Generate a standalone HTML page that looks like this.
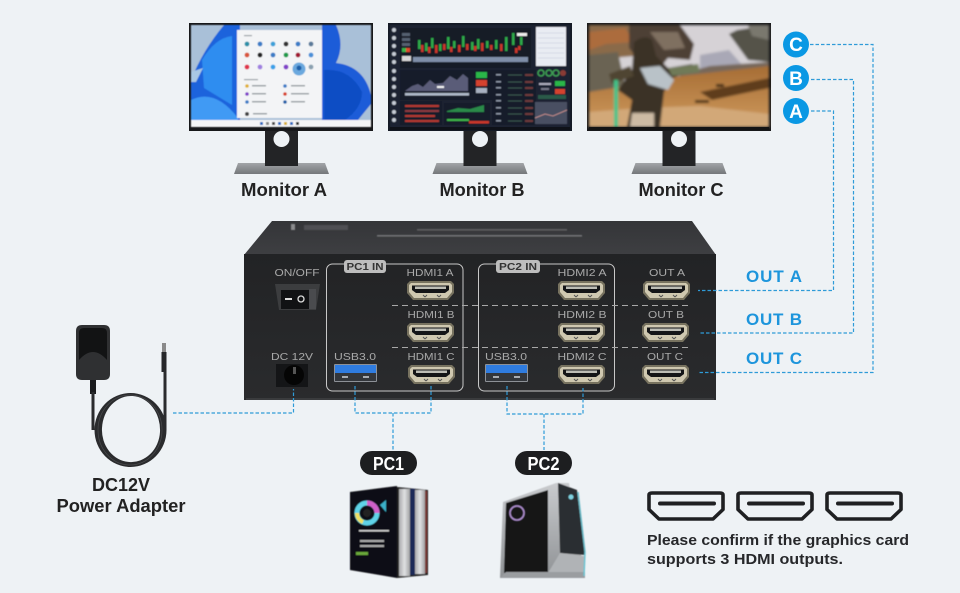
<!DOCTYPE html>
<html><head><meta charset="utf-8"><style>
html,body{margin:0;padding:0;background:#eef2f5;width:960px;height:593px;overflow:hidden}
svg{display:block}
text{font-family:"Liberation Sans",sans-serif}
.lbl{font-weight:700;fill:#222;font-size:18px;text-anchor:middle}
.out{font-weight:700;fill:#1d95dc;font-size:17px;text-anchor:middle}
.pl{fill:#a9a9a9;font-size:10px;text-anchor:middle}
.dash{fill:none;stroke:#2e9bd8;stroke-width:1.2;stroke-dasharray:3.5 2}
</style></head><body>
<svg width="960" height="593" viewBox="0 0 960 593" xmlns="http://www.w3.org/2000/svg">
<defs>
<filter id="b" x="-5%" y="-5%" width="110%" height="110%"><feGaussianBlur stdDeviation="0.6"/></filter>
<filter id="b2" x="-5%" y="-5%" width="110%" height="110%"><feGaussianBlur stdDeviation="1.3"/></filter>
<linearGradient id="base" x1="0" y1="0" x2="0" y2="1"><stop offset="0" stop-color="#a2a5a8"/><stop offset="1" stop-color="#74777a"/></linearGradient>
<linearGradient id="top" x1="0" y1="0" x2="0" y2="1"><stop offset="0" stop-color="#343538"/><stop offset="1" stop-color="#3e3f42"/></linearGradient>
<linearGradient id="front" x1="0" y1="0" x2="0" y2="1"><stop offset="0" stop-color="#222325"/><stop offset="1" stop-color="#2a2b2d"/></linearGradient>
<linearGradient id="sand" x1="0" y1="0" x2="0" y2="1"><stop offset="0" stop-color="#a66d34"/><stop offset="1" stop-color="#cf9a5e"/></linearGradient>
<linearGradient id="silver" x1="0" y1="0" x2="1" y2="0"><stop offset="0" stop-color="#a9aaac"/><stop offset=".5" stop-color="#e0e1e3"/><stop offset="1" stop-color="#a0a1a3"/></linearGradient>
<linearGradient id="pc2s" x1="0" y1="0" x2="0" y2="1"><stop offset="0" stop-color="#c9cbce"/><stop offset="1" stop-color="#8f9295"/></linearGradient>

<g id="stand">
<path d="M4 163H91L95 174H0Z" fill="url(#base)"/>
<rect x="31" y="130" width="33" height="36" fill="#232426"/>
<circle cx="47.500" cy="139" r="8" fill="#eef2f5"/>
</g>

<g id="hdmi">
<path d="M1 3L4 0H45L48 3V12L42 19H7L1 12Z" fill="#77725f"/>
<path d="M3 4L5 2H44L46 4V11L41 17H8L3 11Z" fill="#cfc8b0"/>
<path d="M6 4.500H43V9L39 12H10L6 9Z" fill="#141517"/>
<rect x="9" y="5.500" width="31" height="2.500" fill="#bdbdb5"/>
<path d="M17 14l2 2M21 14l-2 2M31 14l2 2M35 14l-2 2" stroke="#555" stroke-width="1"/>
</g>

<g id="usb">
<rect x="0" y="0" width="43" height="18" rx="1" fill="#8d9197"/>
<rect x="1" y="1" width="41" height="8" fill="#2f7ce0"/>
<rect x="1" y="9" width="41" height="8" fill="#33363b"/>
<rect x="8" y="12" width="6" height="2" fill="#a8acb2"/><rect x="29" y="12" width="6" height="2" fill="#a8acb2"/>
</g>

<g id="hd">
<path d="M2 4Q2 2 5 2H73Q76 2 76 4V18.500L66 28H12L2 18.500Z" fill="none" stroke="#1f2022" stroke-width="3.600" stroke-linejoin="round"/>
<rect x="11" y="10.500" width="58" height="4" rx="2" fill="#1f2022"/>
</g>
</defs>

<rect width="960" height="593" fill="#eef2f5"/>

<!-- Monitor A -->
<use href="#stand" x="234"/>
<rect x="189" y="23" width="184" height="108" fill="#17181a"/>
<g filter="url(#b)">
<rect x="191" y="25" width="180" height="97" fill="#a9c0d8"/>
<path d="M191 80Q203 50 224 25H240V120H191Z" fill="#1c63dc"/>
<path d="M202 60Q215 38 232 36V105L204 88Z" fill="#2f8df0"/>
<path d="M191 72L203 68L196 82H191Z" fill="#a9c8e4"/>
<path d="M191 100Q215 88 238 118V120H191Z" fill="#3f9af4"/>
<path d="M322 25H336Q345 45 336 63Q364 66 371 95V104L358 120H322Z" fill="#1a5cd8"/>
<path d="M324 70Q350 68 362 92Q362 108 345 120H324Z" fill="#0f4ec4"/>
<rect x="191" y="120" width="180" height="7" fill="#f4f5f6"/>
<rect x="237" y="30" width="85" height="88" fill="#f3f4f6"/>
<g fill="#3a7cc6">
<circle cx="247" cy="44" r="2.400" fill="#2a8fa8"/><circle cx="260" cy="44" r="2.400"/><circle cx="273" cy="44" r="2.400" fill="#3aa0d8"/><circle cx="286" cy="44" r="2.400" fill="#333"/><circle cx="298" cy="44" r="2.400"/><circle cx="311" cy="44" r="2.400" fill="#5a7a9a"/>
<circle cx="247" cy="55" r="2.400" fill="#d8543a"/><circle cx="260" cy="55" r="2.400" fill="#222"/><circle cx="273" cy="55" r="2.400"/><circle cx="286" cy="55" r="2.400" fill="#1a9a4a"/><circle cx="298" cy="55" r="2.400" fill="#a01830"/><circle cx="311" cy="55" r="2.400" fill="#4a90d8"/>
<circle cx="247" cy="67" r="2.400" fill="#e0304a"/><circle cx="260" cy="67" r="2.400" fill="#a080e0"/><circle cx="273" cy="67" r="2.400" fill="#38a0e8"/><circle cx="286" cy="67" r="2.400" fill="#8040c8"/><circle cx="299" cy="69" r="6.500" fill="#6aa8de"/><circle cx="299" cy="68" r="2.500" fill="#1f5ea8"/><circle cx="311" cy="67" r="2.400" fill="#8aa0b0"/>
<circle cx="247" cy="86" r="1.800" fill="#e0b030"/><circle cx="285" cy="86" r="1.800"/><circle cx="247" cy="94" r="1.800" fill="#8040c8"/><circle cx="285" cy="94" r="1.800" fill="#d8402a"/><circle cx="247" cy="102" r="1.800"/><circle cx="285" cy="102" r="1.800" fill="#1f5ea8"/><circle cx="247" cy="114" r="2" fill="#444"/>
</g>
<g fill="#9aa0a6"><rect x="244" y="35" width="8" height="1.200"/><rect x="244" y="79" width="14" height="1.200"/><rect x="252" y="85" width="14" height="1.500"/><rect x="291" y="85" width="14" height="1.500"/><rect x="252" y="93" width="14" height="1.500"/><rect x="291" y="93" width="18" height="1.500"/><rect x="252" y="101" width="14" height="1.500"/><rect x="291" y="101" width="14" height="1.500"/><rect x="253" y="113" width="14" height="1.500"/></g>
<g fill="#2a6cc0"><rect x="260" y="122" width="3" height="3"/><rect x="266" y="122" width="3" height="3" fill="#888"/><rect x="272" y="122" width="3" height="3" fill="#444"/><rect x="278" y="122" width="3" height="3"/><rect x="284" y="122" width="3" height="3" fill="#d8b030"/><rect x="290" y="122" width="3" height="3"/><rect x="296" y="122" width="3" height="3" fill="#333"/></g>
</g>
<text class="lbl" x="284" y="196" textLength="86" lengthAdjust="spacingAndGlyphs">Monitor A</text>

<!-- Monitor B -->
<use href="#stand" x="432.500"/>
<rect x="388" y="23" width="184" height="108" fill="#141a24"/>
<g filter="url(#b)">
<rect x="390" y="25" width="180" height="103" fill="#1c2433"/>
<rect x="400" y="28" width="131" height="40" fill="#141b28"/>
<rect x="400" y="70" width="102" height="30" fill="#151c29"/><rect x="400" y="101" width="42" height="24" fill="#151c29"/><rect x="444" y="103" width="46" height="22" fill="#151c29"/>
<rect x="492" y="70" width="44" height="55" fill="#151c29"/>
<g fill="#c6ccd5"><circle cx="394" cy="30" r="2"/><circle cx="394" cy="38" r="2"/><circle cx="394" cy="46" r="2"/><circle cx="394" cy="54" r="2"/><circle cx="394" cy="62" r="2"/><circle cx="394" cy="71" r="2"/><circle cx="394" cy="79" r="2"/><circle cx="394" cy="87" r="2"/><circle cx="394" cy="95" r="2"/><circle cx="394" cy="103" r="2"/><circle cx="394" cy="112" r="2"/><circle cx="394" cy="120" r="2"/></g>
<rect x="402" y="33" width="8" height="3" fill="#55606f"/><rect x="402" y="38" width="8" height="3" fill="#55606f"/><rect x="402" y="43" width="8" height="3" fill="#55606f"/>
<rect x="402" y="48" width="4" height="4" fill="#38b24a"/><rect x="406" y="48" width="4" height="4" fill="#e04a2a"/>
<rect x="402" y="56" width="9" height="5" fill="#d8d8d8"/>
<rect x="413" y="57" width="115" height="5" fill="#7f8fa8"/>
<g fill="#2ea84a"><rect x="418" y="40" width="2.500" height="9"/><rect x="425" y="43" width="2.500" height="8"/><rect x="431" y="38" width="2.500" height="10"/><rect x="439" y="44" width="2.500" height="7"/><rect x="447" y="37" width="2.500" height="12"/><rect x="453" y="41" width="2.500" height="7"/><rect x="462" y="36" width="2.500" height="11"/><rect x="471" y="42" width="2.500" height="8"/><rect x="477" y="39" width="2.500" height="10"/><rect x="486" y="41" width="2.500" height="7"/><rect x="495" y="40" width="2.500" height="9"/><rect x="505" y="37" width="2.500" height="14"/><rect x="512" y="33" width="2.500" height="12"/><rect x="520" y="37" width="2.500" height="8"/></g>
<g fill="#c9382c"><rect x="421" y="45" width="2.500" height="7"/><rect x="428" y="47" width="2.500" height="6"/><rect x="435" y="45" width="2.500" height="8"/><rect x="443" y="44" width="2.500" height="6"/><rect x="450" y="47" width="2.500" height="5"/><rect x="458" y="45" width="2.500" height="7"/><rect x="466" y="44" width="2.500" height="6"/><rect x="474" y="46" width="2.500" height="5"/><rect x="481" y="43" width="2.500" height="8"/><rect x="490" y="45" width="2.500" height="5"/><rect x="500" y="44" width="2.500" height="7"/><rect x="515" y="48" width="2.500" height="5"/><rect x="518" y="46" width="2.500" height="4"/></g>
<rect x="517" y="33" width="10" height="3" fill="#eee"/>
<rect x="536" y="27" width="30" height="39" fill="#e9ecf3"/>
<g stroke="#c0c8da" stroke-width=".6"><path d="M538 33H564M538 38H564M538 43H564M538 48H564M538 53H564M538 58H564"/></g>
<path d="M405 91L412 86L418 84L423 87L430 80L435 84L443 83L450 76L457 80L463 74L468 78V91Z" fill="#5a5c78"/>
<rect x="405" y="93" width="64" height="2.500" fill="#aeb8c8"/><rect x="437" y="86" width="7" height="2" fill="#f4f4f4"/>
<rect x="476" y="72" width="11" height="6" fill="#29b64a"/><rect x="476" y="80" width="11" height="6" fill="#d5432d"/><rect x="476" y="88" width="11" height="5" fill="#a7b0c0"/>
<rect x="405" y="105" width="34" height="2" fill="#b53a30"/><rect x="405" y="110" width="34" height="2" fill="#8d3a40"/><rect x="405" y="115" width="30" height="2" fill="#b53a30"/><rect x="405" y="120" width="34" height="2" fill="#b53a30"/>
<path d="M447 111L458 108L470 109L484 105V112H447Z" fill="#2a8a4a"/><rect x="447" y="119" width="22" height="2" fill="#3fb54a"/><rect x="469" y="121" width="20" height="2.500" fill="#c9382c"/>
<g stroke="#446a5a" stroke-width=".8" fill="none"><path d="M508 75h14M508 82h14M508 88h14M508 95h14M508 101h14M508 108h14M508 114h14M508 121h14"/></g>
<g fill="#8b94a4"><rect x="496" y="74" width="5" height="1.500"/><rect x="496" y="81" width="5" height="1.500"/><rect x="496" y="87" width="5" height="1.500"/><rect x="496" y="94" width="5" height="1.500"/><rect x="496" y="100" width="5" height="1.500"/><rect x="496" y="107" width="5" height="1.500"/><rect x="496" y="113" width="5" height="1.500"/><rect x="496" y="120" width="5" height="1.500"/></g>
<g fill="#6e3a3a"><rect x="525" y="74" width="8" height="2"/><rect x="525" y="81" width="8" height="2"/><rect x="525" y="87" width="8" height="2"/><rect x="525" y="94" width="8" height="2"/><rect x="525" y="100" width="8" height="2"/><rect x="525" y="107" width="8" height="2"/><rect x="525" y="113" width="8" height="2"/><rect x="525" y="120" width="8" height="2"/></g>
<g fill="none" stroke="#3e9a52" stroke-width="1.600"><circle cx="541" cy="73" r="3"/><circle cx="549" cy="73" r="3"/><circle cx="556" cy="73" r="3"/></g><circle cx="563" cy="73" r="3" fill="#8a3a34"/>
<rect x="555" y="81" width="10" height="5" fill="#29b64a"/><rect x="555" y="89" width="10" height="5" fill="#d5432d"/>
<rect x="539" y="83" width="12" height="2" fill="#aab"/><rect x="541" y="88" width="8" height="2" fill="#778"/>
<rect x="538" y="95" width="28" height="4" fill="#2c5a4a"/>
<rect x="535" y="102" width="32" height="22" fill="#4a4f62"/><path d="M535 118L545 114L553 116L567 110" stroke="#b88" fill="none"/>
</g>
<rect x="390" y="127" width="180" height="3" fill="#0f1219"/>
<text class="lbl" x="482" y="196" textLength="85" lengthAdjust="spacingAndGlyphs">Monitor B</text>

<!-- Monitor C -->
<use href="#stand" x="631.500"/>
<rect x="587" y="23" width="184" height="108" fill="#17181a"/>
<g filter="url(#b2)">
<rect x="589" y="25" width="180" height="102" fill="#d6d2d6"/>
<path d="M700 55L729 50L745 68L700 72Z" fill="#a9a8b6"/>
<path d="M589 25H645V55L589 60Z" fill="#8a6a4a"/>
<path d="M589 32L625 28L634 42L606 44L589 50Z" fill="#ac6c3c"/>
<path d="M589 55L618 52L626 90L589 96Z" fill="#6b6352"/>
<path d="M629 25H680L694 44L690 60L668 58L660 68L640 62L629 48Z" fill="#4e4034"/>
<path d="M650 32H678L685 48L664 50Z" fill="#7f6f60"/>
<path d="M729 34L737 30L769 25V62L748 60Z" fill="#54524a"/>
<path d="M748 25H769V40L752 36Z" fill="#7a786e"/>
<path d="M680 74L710 66L769 62V85H680Z" fill="#77685a"/>
<path d="M589 127V92L626 86L680 76L769 66V127Z" fill="url(#sand)"/>
<path d="M700 92L769 78V88L712 100Z" fill="#5f3e1e"/>
<path d="M589 112L640 108L700 106L769 114V127H589Z" fill="#d2a878"/>
<rect x="695" y="100" width="14" height="3" fill="#4a3018"/><rect x="716" y="84" width="8" height="3" fill="#3c2a18"/>
<path d="M634 42Q645 34 652 40L656 56L668 68L692 64L696 70L672 78L664 92L660 127H627L632 100L618 90L632 70Z" fill="#3b3026"/>
<path d="M640 68L660 66L674 80L668 90L648 84Z" fill="#b9c2c8"/>
<path d="M668 68L698 64L700 72L672 76Z" fill="#6f7a58"/>
<path d="M609 74L630 66L634 76L612 84Z" fill="#4f4530"/>
<rect x="614" y="80" width="4" height="47" fill="#3cc48a"/>
<path d="M632 113H654V127H630Z" fill="#cdbba4"/>
</g>
<rect x="589" y="127" width="180" height="3" fill="#141414"/>
<text class="lbl" x="681" y="196" textLength="85" lengthAdjust="spacingAndGlyphs">Monitor C</text>

<!-- Badges -->
<circle cx="796" cy="44.500" r="13" fill="#0a98e4"/><circle cx="796" cy="78" r="13" fill="#0a98e4"/><circle cx="796" cy="111" r="13" fill="#0a98e4"/>
<g fill="#fff" font-size="19" font-weight="700" text-anchor="middle"><text x="796" y="51">C</text><text x="796" y="85">B</text><text x="796" y="118">A</text></g>

<!-- KVM -->
<path d="M244 255L272 221H692L716 255Z" fill="url(#top)"/>
<rect x="244" y="254" width="472" height="146" fill="url(#front)"/>
<rect x="246" y="398" width="468" height="2" fill="#3a3b3d"/>
<g filter="url(#b)"><rect x="291" y="224" width="4" height="6" fill="#8b8c8e"/><rect x="304" y="225" width="44" height="5" fill="#4f5053"/><rect x="377" y="235" width="205" height="1.600" fill="#727376"/><rect x="417" y="229" width="150" height="1.600" fill="#5e5f62"/></g>

<rect x="326.500" y="264" width="136.500" height="127" rx="6" fill="none" stroke="#c8c8c8" stroke-width="1"/>
<rect x="478.500" y="264" width="136" height="127" rx="6" fill="none" stroke="#c8c8c8" stroke-width="1"/>
<rect x="344" y="260" width="42" height="13" rx="3" fill="#bdbdbd"/>
<rect x="496" y="260" width="44" height="13" rx="3" fill="#bdbdbd"/>
<text x="365" y="270" font-size="10.500" font-weight="700" fill="#333" text-anchor="middle" textLength="37" lengthAdjust="spacingAndGlyphs">PC1 IN</text>
<text x="518" y="270" font-size="10.500" font-weight="700" fill="#333" text-anchor="middle" textLength="38" lengthAdjust="spacingAndGlyphs">PC2 IN</text>

<path d="M392 305.500H690M392 347.500H690" stroke="#a8a8a8" stroke-width="1" stroke-dasharray="6 4" fill="none"/>

<text class="pl" x="297" y="276" textLength="45" lengthAdjust="spacingAndGlyphs">ON/OFF</text>
<text class="pl" x="292" y="360" textLength="42" lengthAdjust="spacingAndGlyphs">DC 12V</text>
<text class="pl" x="355" y="360" textLength="42" lengthAdjust="spacingAndGlyphs">USB3.0</text>
<text class="pl" x="430" y="276" textLength="47" lengthAdjust="spacingAndGlyphs">HDMI1 A</text>
<text class="pl" x="431" y="318" textLength="47" lengthAdjust="spacingAndGlyphs">HDMI1 B</text>
<text class="pl" x="431" y="360" textLength="47" lengthAdjust="spacingAndGlyphs">HDMI1 C</text>
<text class="pl" x="506" y="360" textLength="42" lengthAdjust="spacingAndGlyphs">USB3.0</text>
<text class="pl" x="582" y="276" textLength="49" lengthAdjust="spacingAndGlyphs">HDMI2 A</text>
<text class="pl" x="582" y="318" textLength="49" lengthAdjust="spacingAndGlyphs">HDMI2 B</text>
<text class="pl" x="582" y="360" textLength="49" lengthAdjust="spacingAndGlyphs">HDMI2 C</text>
<text class="pl" x="667" y="276" textLength="36" lengthAdjust="spacingAndGlyphs">OUT A</text>
<text class="pl" x="666" y="318" textLength="36" lengthAdjust="spacingAndGlyphs">OUT B</text>
<text class="pl" x="665" y="360" textLength="36" lengthAdjust="spacingAndGlyphs">OUT C</text>

<use href="#hdmi" x="406" y="281"/><use href="#hdmi" x="406" y="323"/><use href="#hdmi" x="407" y="365"/>
<use href="#hdmi" x="557" y="281"/><use href="#hdmi" x="557" y="323"/><use href="#hdmi" x="557" y="365"/>
<use href="#hdmi" x="642" y="281"/><use href="#hdmi" x="641" y="323"/><use href="#hdmi" x="641" y="365"/>
<use href="#usb" x="334" y="364"/><use href="#usb" x="485" y="364"/>

<!-- switch -->
<path d="M275 284H320L316 310H279Z" fill="#3c3d3f"/>
<rect x="281" y="290" width="33" height="19" fill="#111214"/>
<rect x="309" y="289" width="7" height="20" fill="#4a4b4e"/>
<rect x="285" y="298" width="7" height="2" fill="#ddd"/>
<circle cx="301" cy="299" r="3" fill="none" stroke="#ddd" stroke-width="1.300"/>
<!-- DC jack -->
<rect x="276" y="364" width="32" height="23" fill="#141517"/>
<circle cx="294" cy="375" r="10" fill="#050505"/><rect x="293" y="367" width="3" height="7" fill="#555"/>

<!-- Dashed connectors -->
<path class="dash" d="M810 44.500H873V372.500H698"/>
<path class="dash" d="M811 79.500H853.500V333H699"/>
<path class="dash" d="M811 111H833.500V290.500H698"/>
<path class="dash" d="M173 413H293.500V389"/>
<path class="dash" d="M355 386V413H431V386"/>
<path class="dash" d="M393 413V450"/>
<path class="dash" d="M507 386V414H583V386"/>
<path class="dash" d="M544 414V450"/>

<!-- Out labels -->
<text class="out" x="774" y="282" textLength="56">OUT A</text>
<text class="out" x="774" y="325" textLength="56">OUT B</text>
<text class="out" x="774" y="364" textLength="56">OUT C</text>

<!-- Adapter -->
<path d="M76 331Q76 325 82 325H104Q110 325 110 331V374Q110 380 104 380H82Q76 380 76 374Z" fill="#2f3032"/>
<path d="M79 333Q79 328 84 328H102Q107 328 107 333V360Q93 344 79 360Z" fill="#121314"/>
<rect x="90" y="380" width="6" height="14" fill="#1a1b1d"/>
<rect x="162" y="343" width="4" height="9" fill="#8a8a8a"/><rect x="161.500" y="352" width="5" height="20" fill="#26272a"/>
<path d="M94.500 430a36 37 0 1 0 72 0a36 37 0 1 0-72 0ZM102 428a29 34 0 1 1 58 4a29 32 0 1 1-58-4Z" fill="#2a2b2d" fill-rule="evenodd"/>
<g fill="none" stroke="#4a4b4d" stroke-width=".7"><ellipse cx="130" cy="430" rx="32" ry="35"/></g>
<path d="M93 392V430M165 370V430" fill="none" stroke="#2a2b2d" stroke-width="3"/>
<text class="lbl" x="121" y="491" textLength="58" lengthAdjust="spacingAndGlyphs">DC12V</text>
<text class="lbl" x="121" y="512" textLength="129" lengthAdjust="spacingAndGlyphs">Power Adapter</text>

<!-- PC pills -->
<rect x="360" y="451" width="57" height="24" rx="12" fill="#1d1e20"/>
<rect x="515" y="451" width="57" height="24" rx="12" fill="#1d1e20"/>
<text x="388.500" y="470" fill="#fff" font-size="18" font-weight="700" text-anchor="middle" textLength="31" lengthAdjust="spacingAndGlyphs">PC1</text>
<text x="543.500" y="470" fill="#fff" font-size="18" font-weight="700" text-anchor="middle" textLength="32" lengthAdjust="spacingAndGlyphs">PC2</text>

<!-- PC1 -->
<g filter="url(#b)">
<path d="M350 492L397 486V578L350 570Z" fill="#0e0f12"/>
<path d="M397 487L428 490V575L397 578Z" fill="#222"/>
<rect x="399" y="489" width="11" height="87" fill="url(#silver)"/>
<rect x="415" y="490" width="10" height="84" fill="url(#silver)"/>
<rect x="410" y="489" width="5" height="86" fill="#1a2a58"/>
<rect x="425" y="491" width="2" height="82" fill="#7a3a34"/>
<circle cx="367" cy="513" r="10" fill="none" stroke="#5fd3e8" stroke-width="5"/>
<path d="M367 503a10 10 0 0 1 10 10" fill="none" stroke="#d05fc8" stroke-width="5"/>
<path d="M357 513a10 10 0 0 0 6 9" fill="none" stroke="#f0e060" stroke-width="4"/>
<circle cx="367" cy="513" r="4" fill="#222"/>
<rect x="359" y="530" width="30" height="1.500" fill="#ccc"/><rect x="360" y="540" width="24" height="2" fill="#aaa"/><rect x="360" y="545" width="24" height="2" fill="#aaa"/>
<rect x="356" y="552" width="12" height="3" fill="#6aa83a"/>
<path d="M380 505l6-5v12z" fill="#3ab0c8"/>
</g>
<!-- PC2 -->
<g filter="url(#b)">
<path d="M503 502L556 483H569L585 578H500Z" fill="url(#pc2s)"/>
<path d="M506 503L548 490V573H504Z" fill="#141517"/>
<path d="M558 483L577 490L585 555L560 553Z" fill="#2b2d30"/>
<path d="M548 573L560 553L585 556L584 574Z" fill="#b0b3b6"/>
<path d="M500 578L506 572H585V578Z" fill="#9a9da0"/>
<path d="M578 492L585 552" stroke="#6ab9c6" stroke-width="1.500"/>
<path d="M585 552L584 576" stroke="#6ac4d2" stroke-width="1.500"/>
<circle cx="517" cy="513" r="7" fill="none" stroke="#b090d0" stroke-width="1.500"/>
<circle cx="571" cy="497" r="2.500" fill="#7fd2e0"/>
</g>

<!-- HDMI icons -->
<use href="#hd" x="647" y="491"/><use href="#hd" x="736" y="491"/><use href="#hd" x="825" y="491"/>
<text x="647" y="545" font-size="15" font-weight="700" fill="#26272a" textLength="262" lengthAdjust="spacingAndGlyphs">Please confirm if the graphics card</text>
<text x="647" y="564" font-size="15" font-weight="700" fill="#26272a" textLength="196" lengthAdjust="spacingAndGlyphs">supports 3 HDMI outputs.</text>
</svg>
</body></html>
